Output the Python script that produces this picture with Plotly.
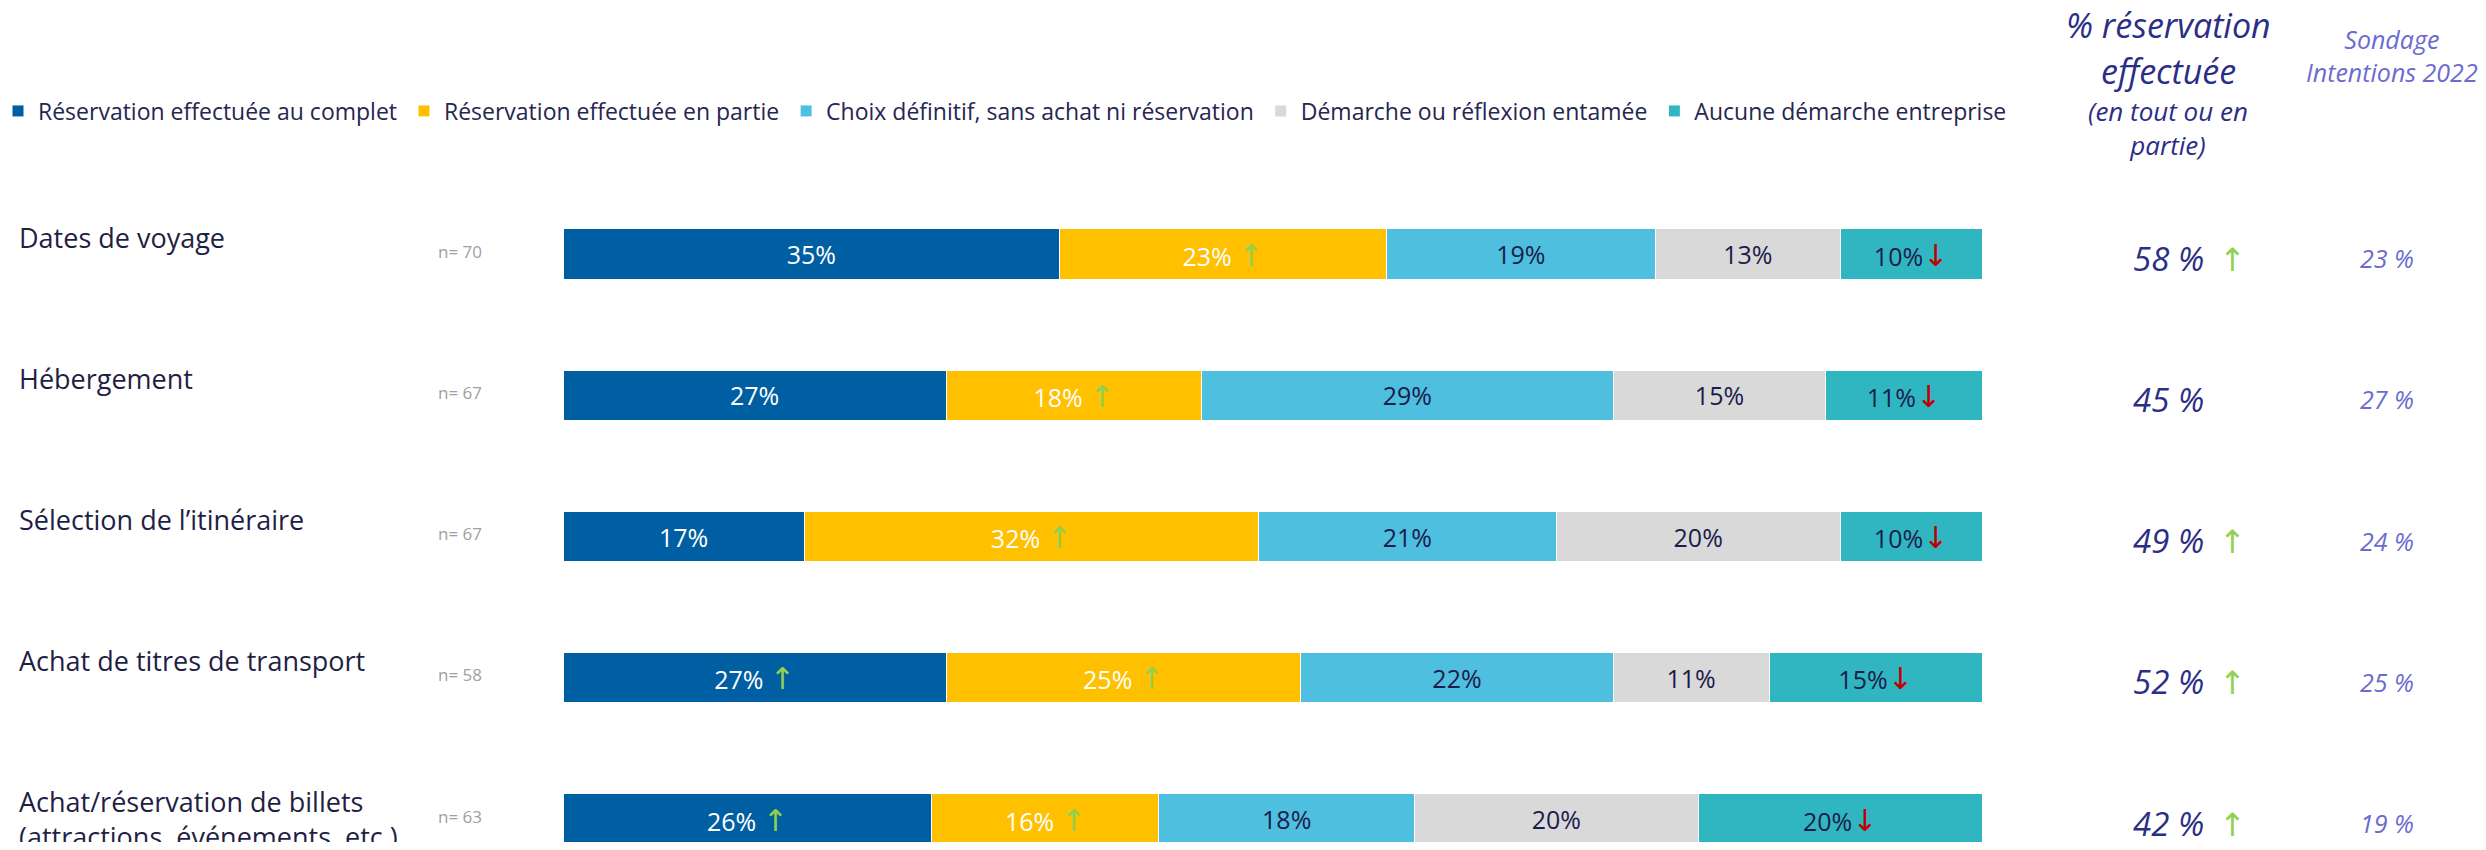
import plotly.graph_objects as go

# la page ajoute une marge de 8 px autour de la figure : on compense
PAGE_MARGIN = 8
W, H = 2486 - 2 * PAGE_MARGIN, 850 - 2 * PAGE_MARGIN

categories = [
    "Dates de voyage",
    "Hébergement",
    "Sélection de l’itinéraire",
    "Achat de titres de transport",
    "Achat/réservation de billets<br>(attractions, événements, etc.)",
]
n_values = [70, 67, 67, 58, 63]

series_names = [
    "Réservation effectuée au complet",
    "Réservation effectuée en partie",
    "Choix définitif, sans achat ni réservation",
    "Démarche ou réflexion entamée",
    "Aucune démarche entreprise",
]
complet = [35, 27, 17, 27, 26]
partie = [23, 18, 32, 25, 16]
choix = [19, 29, 21, 22, 18]
demarche = [13, 15, 20, 11, 20]
aucune = [10, 11, 10, 15, 20]

# évolution vs 2022 : 1 = hausse, -1 = baisse, 0 = rien
trend_complet = [0, 0, 0, 1, 1]
trend_partie = [1, 1, 1, 1, 1]
trend_choix = [0, 0, 0, 0, 0]
trend_demarche = [0, 0, 0, 0, 0]
trend_aucune = [-1, -1, -1, -1, -1]

reservation_total = [58, 45, 49, 52, 42]
trend_total = [1, 0, 1, 1, 1]
sondage_2022 = [23, 27, 24, 25, 19]

colors = ["#005EA2", "#FFC000", "#4EBFDF", "#D9D9D9", "#30B6C1"]
text_colors = ["white", "white", "#1C1C4C", "#1C1C4C", "#1C1C4C"]

GREEN = "#92D050"
RED = "#C00000"
NAVY = "#2B2E86"
LILAC = "#6B6BD0"
BASE_FONT = "'Open Sans', 'Noto Sans', 'DejaVu Sans', sans-serif"
ITALIC_FONT = "'Open Sans', 'Noto Sans', sans-serif"


def px(x):
    # coordonnée écran -> coordonnée papier
    return (x - PAGE_MARGIN) / W


def py(y):
    return 1 - (y - PAGE_MARGIN) / H


def bar_label(v, t):
    if t > 0:
        return f"{v}% <span style='color:{GREEN};font-size:30px'>↑</span>"
    if t < 0:
        return f"{v}%<span style='color:{RED};font-size:30px'>↓</span>"
    return f"{v}%"


fig = go.Figure()

all_values = [complet, partie, choix, demarche, aucune]
all_trends = [trend_complet, trend_partie, trend_choix, trend_demarche, trend_aucune]

for name, vals, trends, col, tcol in zip(series_names, all_values, all_trends, colors, text_colors):
    fig.add_trace(go.Bar(
        y=categories,
        x=vals,
        orientation="h",
        name=name + "\u00a0\u00a0",  # un peu plus d'espace entre les entrées de légende
        width=0.355,
        marker=dict(color=col, line=dict(color="white", width=1)),
        text=[bar_label(v, t) for v, t in zip(vals, trends)],
        textposition="inside",
        insidetextanchor="middle",
        constraintext="none",
        textfont=dict(family=BASE_FONT, size=25, color=tcol),
        hoverinfo="skip",
    ))

annotations = []

# libellés des lignes et effectifs
for cat, n in zip(categories, n_values):
    annotations.append(dict(
        x=px(17), xref="paper", y=cat, yref="y",
        text=cat, showarrow=False, xanchor="left", yanchor="middle", align="left",
        yshift=0 if "<br>" in cat else 17,
        font=dict(family=BASE_FONT, size=27, color="#1F1F45"),
    ))
    annotations.append(dict(
        x=px(436), xref="paper", y=cat, yref="y",
        text=f"n= {n}", showarrow=False, xanchor="left", yanchor="middle",
        yshift=3,
        font=dict(family=BASE_FONT, size=17, color="#A0A0A0"),
    ))

# colonne % réservation effectuée + sondage 2022
for cat, tot, tr, s in zip(categories, reservation_total, trend_total, sondage_2022):
    annotations.append(dict(
        x=px(2168), xref="paper", y=cat, yref="y",
        text=f"<i>{tot} %</i>", showarrow=False, xanchor="center", yanchor="middle",
        yshift=-4,
        font=dict(family=ITALIC_FONT, size=33, color=NAVY),
    ))
    if tr > 0:
        annotations.append(dict(
            x=px(2232), xref="paper", y=cat, yref="y",
            text="↑", showarrow=False, xanchor="center", yanchor="middle",
            yshift=-4,
            font=dict(family=BASE_FONT, size=32, color=GREEN),
        ))
    annotations.append(dict(
        x=px(2387), xref="paper", y=cat, yref="y",
        text=f"<i>{s} %</i>", showarrow=False, xanchor="center", yanchor="middle",
        yshift=-4,
        font=dict(family=ITALIC_FONT, size=25, color=LILAC),
    ))

# en-têtes colonne droite
for txt, ypx in [("% réservation", 25), ("effectuée", 71)]:
    annotations.append(dict(
        x=px(2168), xref="paper", y=py(ypx), yref="paper",
        text=f"<i>{txt}</i>", showarrow=False, xanchor="center", yanchor="middle",
        font=dict(family=ITALIC_FONT, size=34, color=NAVY),
    ))
annotations.append(dict(
    x=px(2168), xref="paper", y=py(128), yref="paper",
    text="<i>(en tout ou en<br>partie)</i>", showarrow=False, xanchor="center", yanchor="middle",
    font=dict(family=ITALIC_FONT, size=26, color=NAVY),
))
annotations.append(dict(
    x=px(2392), xref="paper", y=py(56), yref="paper",
    text="<i>Sondage<br>Intentions 2022</i>", showarrow=False, xanchor="center", yanchor="middle",
    font=dict(family=ITALIC_FONT, size=25, color=LILAC),
))

# centres des barres (écran) : 254 pour la 1re ligne, 819 pour la dernière
row_top, row_bottom = 254 - PAGE_MARGIN, 819 - PAGE_MARGIN
step = (row_bottom - row_top) / (len(categories) - 1)

fig.update_layout(
    width=W,
    height=H,
    barmode="stack",
    plot_bgcolor="white",
    paper_bgcolor="white",
    margin=dict(l=0, r=0, t=0, b=0),
    showlegend=True,
    legend=dict(
        orientation="h",
        x=0, y=py(111),
        xanchor="left", yanchor="middle",
        font=dict(family=BASE_FONT, size=23, color="#262650"),
        bgcolor="rgba(0,0,0,0)",
        itemwidth=30,
        indentation=-10,
        traceorder="normal",
    ),
    annotations=annotations,
)

fig.update_xaxes(range=[0, 100], domain=[px(563), px(1982)], visible=False, fixedrange=True)
fig.update_yaxes(
    type="category",
    categoryorder="array",
    categoryarray=categories,
    range=[len(categories) - 1 + (H - row_bottom) / step, -row_top / step],
    visible=False,
    fixedrange=True,
)

fig.write_html("out.html")
